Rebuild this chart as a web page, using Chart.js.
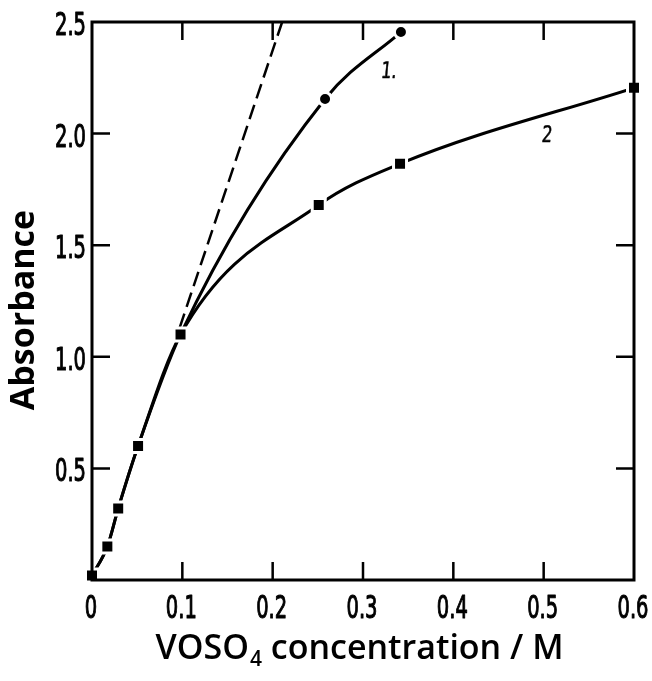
<!DOCTYPE html>
<html>
<head>
<meta charset="utf-8">
<script src="https://cdn.jsdelivr.net/npm/chart.js@4.4.1/dist/chart.umd.min.js"></script>
<style>
  html,body{margin:0;padding:0;background:#fff;}
  #wrap{width:652px;height:681px;position:relative;}
</style>
</head>
<body>
<div id="wrap"><canvas id="c" width="652" height="681"></canvas></div>
<script>
// ---- data ----
const xTickValues = [0, 0.1, 0.2, 0.3, 0.4, 0.5, 0.6];
const xTickLabels = ['0', '0.1', '0.2', '0.3', '0.4', '0.5', '0.6'];
const yTickValues = [0.5, 1.0, 1.5, 2.0, 2.5];
const yTickLabels = ['0.5', '1.0', '1.5', '2.0', '2.5'];
const curve1X = [0, 0.017, 0.029, 0.051, 0.098, 0.258, 0.342];
const curve1Y = [0.02, 0.15, 0.32, 0.60, 1.10, 2.155, 2.455];
const curve1Marked = [false, false, false, false, false, true, true];
const curve2X = [0, 0.017, 0.029, 0.051, 0.098, 0.251, 0.341, 0.6];
const curve2Y = [0.02, 0.15, 0.32, 0.60, 1.10, 1.68, 1.865, 2.205];
const dashX = [0.097, 0.2105];
const dashY = [1.13, 2.5];
const curveLabels = ['1.', '2'];
const curveLabelX = [0.328, 0.503];
const curveLabelY = [2.285, 2.00];
const xTitleMain = 'VOSO';
const xTitleSub = '4';
const xTitleRest = ' concentration / M';
const yTitle = 'Absorbance';

const pts = (xs, ys) => xs.map((x, i) => ({x: x, y: ys[i]}));
const numFont = "'DejaVu Sans Condensed','Liberation Sans Narrow','DejaVu Sans',sans-serif";

// draws a narrow, tall number label (real text) scaled to a target digit height
function drawNarrow(ctx, text, x, baseline, align, digitH, refW, skew, extra) {
  ctx.save();
  ctx.font = '24px ' + numFont;
  const m0 = ctx.measureText('0');
  const h0 = m0.actualBoundingBoxAscent + m0.actualBoundingBoxDescent;
  const w05 = ctx.measureText('0.5').width;
  const sy = digitH / h0;
  const sx = refW / w05;
  ctx.translate(x, baseline);
  ctx.scale(sx, sy);
  if (skew) ctx.transform(1, 0, -skew, 1, 0, 0);
  ctx.textAlign = align;
  ctx.textBaseline = 'alphabetic';
  ctx.fillStyle = '#000';
  ctx.strokeStyle = '#000';
  ctx.lineWidth = extra;
  ctx.lineJoin = 'round';
  ctx.fillText(text, 0, 0);
  ctx.strokeText(text, 0, 0);
  ctx.restore();
}

const framePlugin = {
  id: 'frame',
  afterDatasetsDraw(chart) {
    const ctx = chart.ctx, a = chart.chartArea;
    const xs = chart.scales.x, ys = chart.scales.y;
    ctx.save();
    ctx.strokeStyle = '#000';
    ctx.lineWidth = 3;
    ctx.strokeRect(a.left, a.top, a.right - a.left, a.bottom - a.top);
    ctx.lineWidth = 2.5;
    const L = 18;
    ctx.beginPath();
    xTickValues.forEach(v => {
      const px = xs.getPixelForValue(v);
      if (px <= a.left + 1 || px >= a.right - 1) return;
      ctx.moveTo(px, a.bottom); ctx.lineTo(px, a.bottom - L);
      ctx.moveTo(px, a.top); ctx.lineTo(px, a.top + L);
    });
    yTickValues.forEach(v => {
      const py = ys.getPixelForValue(v);
      if (py <= a.top + 1 || py >= a.bottom - 1) return;
      ctx.moveTo(a.left, py); ctx.lineTo(a.left + L, py);
      ctx.moveTo(a.right, py); ctx.lineTo(a.right - L, py);
    });
    ctx.stroke();
    ctx.restore();
    // tick labels
    xTickValues.forEach((v, i) => {
      drawNarrow(ctx, xTickLabels[i], xs.getPixelForValue(v) - 1, a.bottom + 38, 'center', 24.5, 31, 0, 0.8);
    });
    yTickValues.forEach((v, i) => {
      drawNarrow(ctx, yTickLabels[i], a.left - 6, ys.getPixelForValue(v) + 13, 'right', 24.5, 31, 0, 0.8);
    });
    // curve labels
    curveLabels.forEach((t, i) => {
      drawNarrow(ctx, t, xs.getPixelForValue(curveLabelX[i]), ys.getPixelForValue(curveLabelY[i]) + 8, 'center', 17, 26, 0.12, 0.6);
    });
  },
  afterDraw(chart) {
    const ctx = chart.ctx;
    ctx.save();
    ctx.fillStyle = '#000';
    const mainFont = "600 34px 'Open Sans',sans-serif";
    const subFont = "600 21px 'Open Sans',sans-serif";
    ctx.font = mainFont;
    const w1 = ctx.measureText(xTitleMain).width;
    const w3 = ctx.measureText(xTitleRest).width;
    ctx.font = subFont;
    const w2 = ctx.measureText(xTitleSub).width;
    const total = w1 + w2 + w3;
    const x0 = 359 - total / 2;
    const base = 659;
    ctx.textBaseline = 'alphabetic';
    ctx.textAlign = 'left';
    ctx.font = mainFont; ctx.fillText(xTitleMain, x0, base);
    ctx.font = subFont; ctx.fillText(xTitleSub, x0 + w1 + 1, base + 7);
    ctx.font = mainFont; ctx.fillText(xTitleRest, x0 + w1 + w2 + 1, base);
    ctx.translate(34, 310);
    ctx.rotate(-Math.PI / 2);
    ctx.font = "bold 34px 'Open Sans',sans-serif";
    ctx.textAlign = 'center';
    ctx.fillText(yTitle, 0, 0);
    ctx.restore();
  }
};

new Chart(document.getElementById('c'), {
  type: 'scatter',
  data: {
    datasets: [
      { label: 'curve 1', data: pts(curve1X, curve1Y), showLine: true, borderColor: '#000', borderWidth: 3,
        pointRadius: 0, cubicInterpolationMode: 'monotone', order: 3 },
      { label: 'curve 2', data: pts(curve2X, curve2Y), showLine: true, borderColor: '#000', borderWidth: 3,
        pointRadius: 0, cubicInterpolationMode: 'monotone', order: 3 },
      { label: 'initial slope', data: pts(dashX, dashY), showLine: true, borderColor: '#000', borderWidth: 2.5,
        borderDash: [15, 7], pointRadius: 0, tension: 0, order: 3 },
      { label: 'curve 2 points', data: pts(curve2X, curve2Y), showLine: false, pointStyle: 'rect',
        pointRadius: 9.2, pointBackgroundColor: '#000', pointBorderColor: '#fff', pointBorderWidth: 3,
        clip: false, order: 1 },
      { label: 'curve 1 points', data: pts(curve1X, curve1Y), showLine: false, pointStyle: 'circle',
        pointRadius: curve1Marked.map(m => m ? 6.5 : 0), pointBackgroundColor: '#000', pointBorderColor: '#fff',
        pointBorderWidth: curve1Marked.map(m => m ? 3 : 0), clip: false, order: 1 }
    ]
  },
  options: {
    responsive: false,
    animation: false,
    events: [],
    layout: { padding: { top: 22, right: 18, bottom: 0, left: 0 } },
    plugins: { legend: { display: false }, tooltip: { enabled: false } },
    scales: {
      x: {
        type: 'linear', min: 0, max: 0.6,
        grid: { display: false, drawTicks: false },
        border: { display: false },
        afterBuildTicks: s => { s.ticks = xTickValues.map(v => ({ value: v })); },
        afterFit: s => { s.height = 101; },
        ticks: { display: false }
      },
      y: {
        type: 'linear', min: 0, max: 2.5,
        grid: { display: false, drawTicks: false },
        border: { display: false },
        afterBuildTicks: s => { s.ticks = yTickValues.map(v => ({ value: v })); },
        afterFit: s => { s.width = 92; },
        ticks: { display: false }
      }
    }
  },
  plugins: [framePlugin]
});
</script>
</body>
</html>
